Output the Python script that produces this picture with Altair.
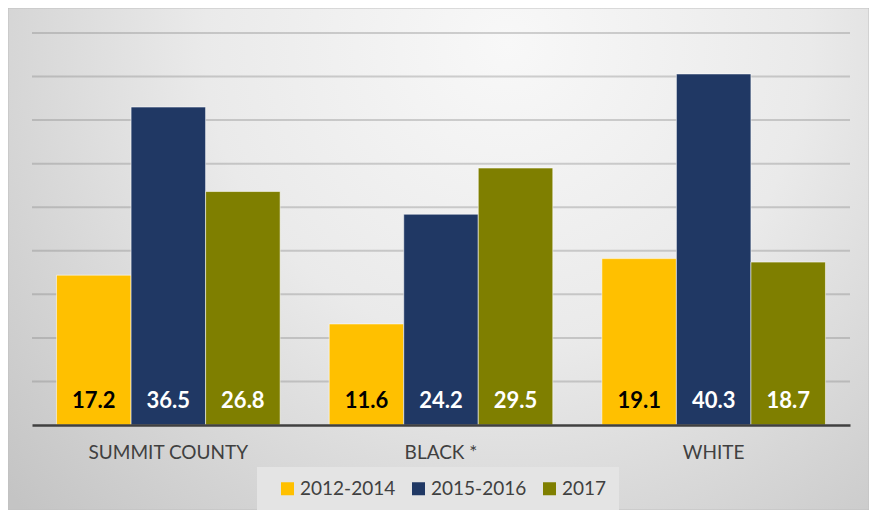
import altair as alt
import pandas as pd

categories = ["SUMMIT COUNTY", "BLACK *", "WHITE"]
periods = ["2012-2014", "2015-2016", "2017"]
values_2012_2014 = [17.2, 11.6, 19.1]
values_2015_2016 = [36.5, 24.2, 40.3]
values_2017 = [26.8, 29.5, 18.7]
bar_colors = ["#FFC000", "#203864", "#7F7F00"]
grid_values = [5, 10, 15, 20, 25, 30, 35, 40, 45]

rows = []
for series, vals in zip(periods, [values_2012_2014, values_2015_2016, values_2017]):
    for cat, v in zip(categories, vals):
        rows.append({"category": cat, "period": series, "value": v})
df = pd.DataFrame(rows)
grid_df = pd.DataFrame({"value": grid_values})

FONT = "Lato"

gradient = {
    "gradient": "radial",
    "x1": 0.58, "y1": 0.25, "r1": 0.0,
    "x2": 0.58, "y2": 0.25, "r2": 0.78,
    "stops": [
        {"offset": 0.0, "color": "#f8f8f8"},
        {"offset": 0.45, "color": "#eaeaea"},
        {"offset": 1.0, "color": "#c4c4c4"},
    ],
}

y_scale = alt.Scale(domain=[0, 45], nice=False)

background = alt.Chart(alt.Data(values=[{"bg": 1}])).mark_rect(
    fill=gradient, stroke="#c0c0c0", strokeWidth=1
).encode(
    x=alt.value(-24), x2=alt.value(837), y=alt.value(-25), y2=alt.value(477)
)

gridlines = alt.Chart(grid_df).mark_rule(
    color="#808080", strokeOpacity=0.35, strokeWidth=2
).encode(
    y=alt.Y("value:Q", scale=y_scale, axis=None),
)

x_enc = alt.X(
    "category:N",
    sort=categories,
    scale=alt.Scale(paddingInner=0.18, paddingOuter=0.09),
    axis=alt.Axis(
        title=None, labelAngle=0, labelFont=FONT, labelFontSize=19,
        labelColor="#404040", labelPadding=27, labelBaseline="middle",
        ticks=False, domain=True, domainColor="#404040", domainWidth=2.5,
        grid=False, zindex=2,
    ),
)
y_enc = alt.Y("value:Q", scale=y_scale, axis=None)
xoff = alt.XOffset("period:N", sort=periods,
                   scale=alt.Scale(paddingInner=0, paddingOuter=0))

bars = alt.Chart(df).mark_bar(
    stroke="#ffffff", strokeWidth=1, strokeOpacity=0.55
).encode(
    x=x_enc,
    xOffset=xoff,
    y=y_enc,
    color=alt.Color(
        "period:N", sort=periods,
        scale=alt.Scale(domain=periods, range=bar_colors),
        legend=alt.Legend(
            title=None, orient="none", direction="horizontal",
            legendX=225, legendY=434, padding=12,
            fillColor="#e4e4e4", symbolType="square", symbolSize=169,
            symbolStrokeWidth=0, symbolOffset=9, labelOffset=3,
            columnPadding=4, labelFont=FONT, labelFontSize=19,
            labelColor="#404040",
        ),
    ),
)

labels = alt.Chart(df).mark_text(
    font=FONT, fontSize=22, fontWeight="bold", baseline="middle", dy=-24
).encode(
    x=alt.X("category:N", sort=categories),
    xOffset=xoff,
    y=alt.datum(0),
    text=alt.Text("value:Q", format=".1f"),
    color=alt.condition(alt.datum.period == "2012-2014",
                        alt.value("#000000"), alt.value("#ffffff")),
)

chart = alt.layer(background, gridlines, bars, labels).properties(
    width=818, height=392,
    padding={"left": 24, "top": 25, "right": 19, "bottom": 85},
    autosize=alt.AutoSizeParams(type="none"),
    background="#ffffff",
).configure_view(strokeWidth=0)

chart.save("out.html", embed_options={"renderer": "svg", "actions": False})
